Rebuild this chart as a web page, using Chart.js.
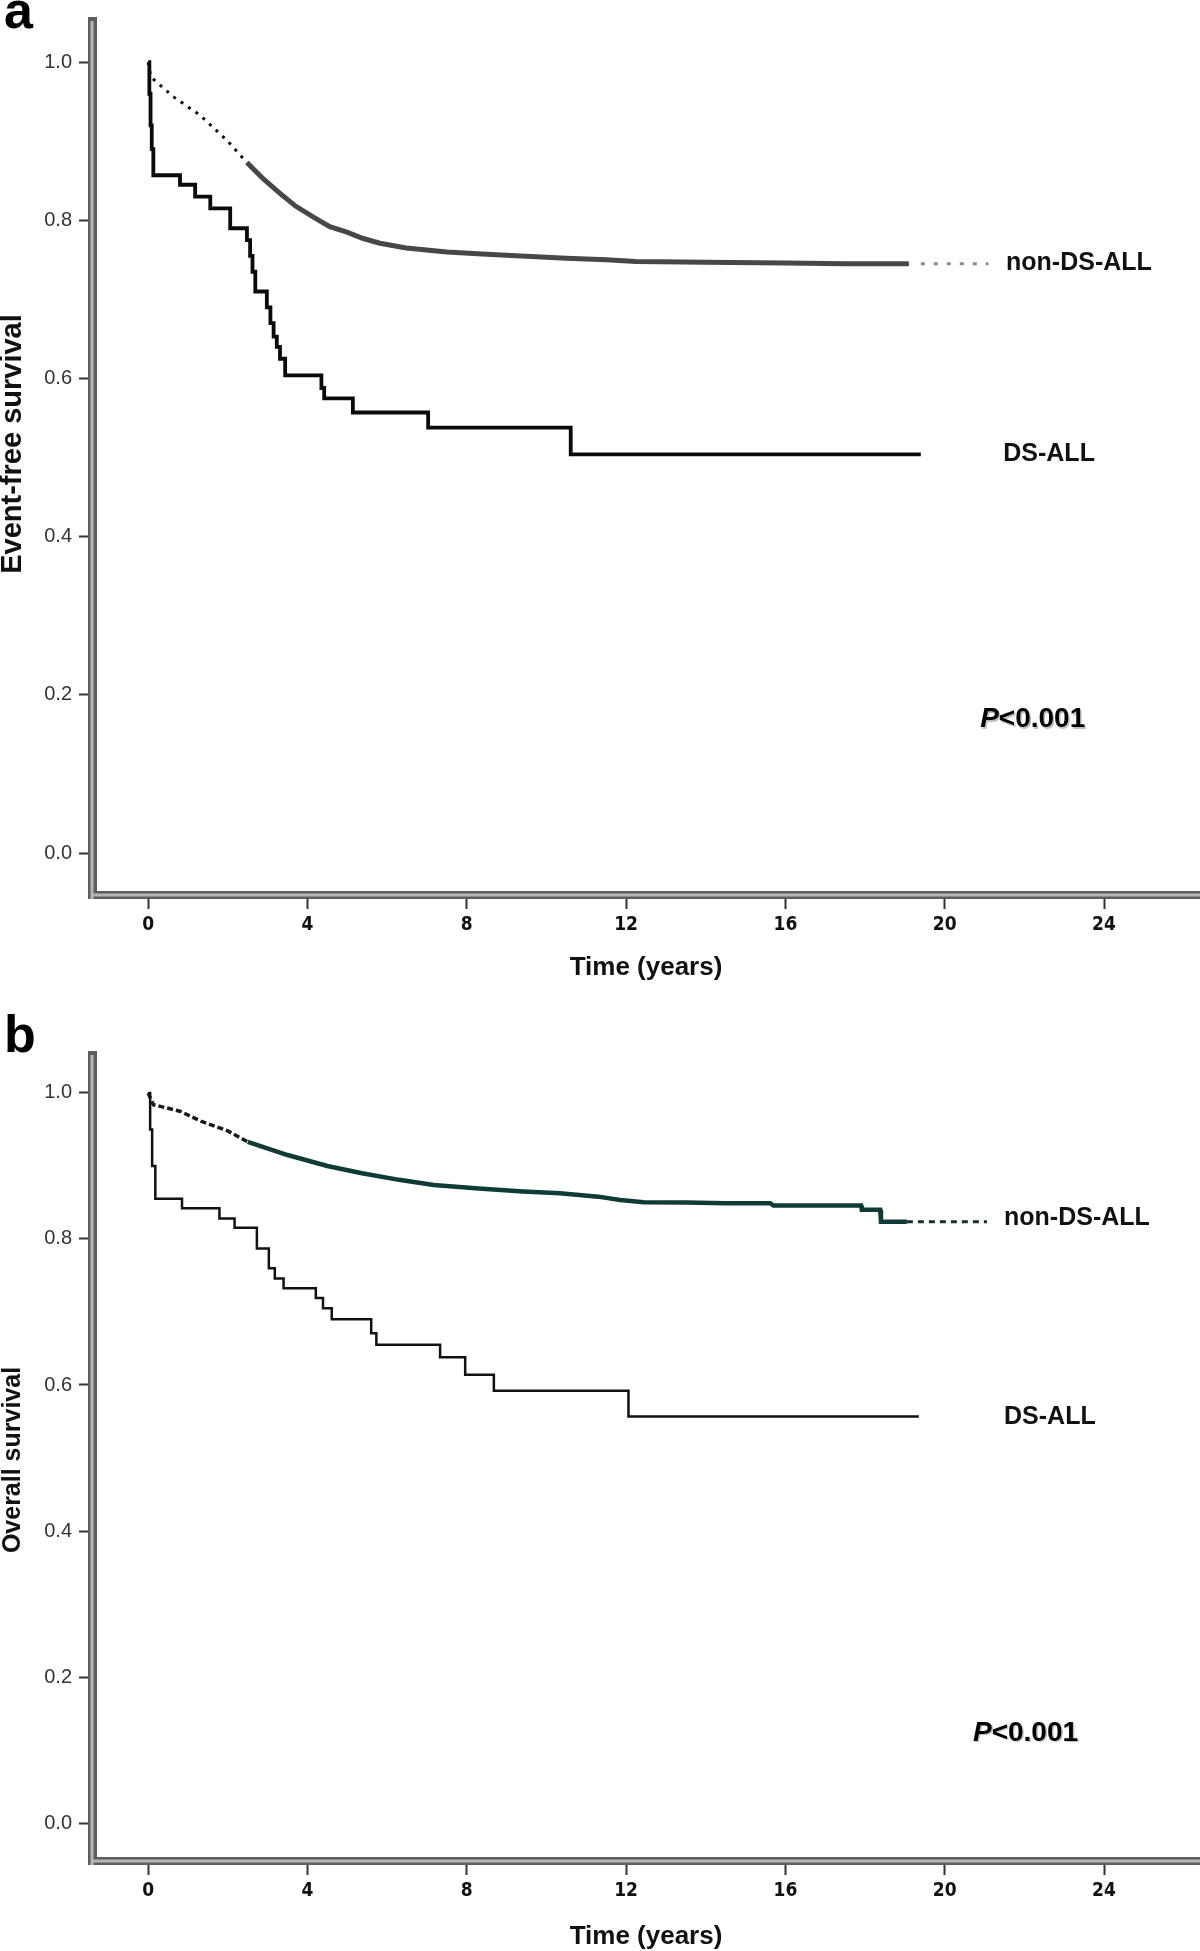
<!DOCTYPE html>
<html>
<head>
<meta charset="utf-8">
<script src="https://cdn.jsdelivr.net/npm/chart.js@4.4.1/dist/chart.umd.min.js"></script>
<style>
html, body { margin: 0; padding: 0; background: #fff; }
#wrap { position: relative; width: 1200px; height: 1951px; overflow: hidden; }
canvas { position: absolute; left: 0; }
#panelA { top: 0; }
#panelB { top: 1000px; }
</style>
</head>
<body>
<div id="wrap">
  <canvas id="panelA" width="1200" height="1000"></canvas>
  <canvas id="panelB" width="1200" height="966"></canvas>
</div>
<script>
// ticks
const xTicks = [0, 4, 8, 12, 16, 20, 24];
const yTicks = [0.0, 0.2, 0.4, 0.6, 0.8, 1.0];

// a: event-free survival, DS-ALL (step points: time the value drops to)
const efsDsTime  = [0, 0.03, 0.06, 0.09, 0.13, 0.80, 1.18, 1.56, 2.06, 2.48, 2.56, 2.62, 2.69, 2.98, 3.07, 3.15, 3.23, 3.31, 3.44, 4.35, 4.42, 5.14, 7.03, 10.61, 19.4];
const efsDsValue = [1.0, 0.96, 0.92, 0.89, 0.857, 0.845, 0.830, 0.815, 0.790, 0.775, 0.755, 0.735, 0.710, 0.690, 0.670, 0.653, 0.640, 0.625, 0.604, 0.588, 0.575, 0.557, 0.538, 0.504, 0.504];

// a: event-free survival, non-DS-ALL
const efsNonEarlyTime  = [0, 0.07, 0.64, 1.3, 1.98, 2.48];
const efsNonEarlyValue = [1.0, 0.981, 0.956, 0.933, 0.901, 0.873];
const efsNonTime  = [2.48, 2.9, 3.31, 3.7, 4.15, 4.56, 4.99, 5.4, 5.82, 6.48, 7.5, 8.5, 9.36, 10.5, 11.5, 12.25, 14, 16, 17.5, 19.1];
const efsNonValue = [0.873, 0.852, 0.834, 0.818, 0.804, 0.792, 0.785, 0.777, 0.771, 0.765, 0.760, 0.757, 0.755, 0.752, 0.750, 0.748, 0.747, 0.746, 0.745, 0.745];
const efsNonTailTime  = [19.4, 21.1];
const efsNonTailValue = [0.745, 0.745];

// b: overall survival, DS-ALL
const osDsTime  = [0, 0.05, 0.1, 0.18, 0.85, 1.79, 2.17, 2.73, 3.03, 3.18, 3.40, 4.21, 4.39, 4.61, 5.60, 5.73, 7.33, 7.96, 8.68, 12.06, 19.35];
const osDsValue = [1.0, 0.95, 0.90, 0.855, 0.842, 0.828, 0.8155, 0.787, 0.760, 0.746, 0.7325, 0.719, 0.705, 0.690, 0.671, 0.655, 0.638, 0.614, 0.592, 0.557, 0.557];

// b: overall survival, non-DS-ALL
const osNonEarlyTime  = [0, 0.13, 0.8, 1.34, 2.0, 2.5];
const osNonEarlyValue = [1.0, 0.984, 0.975, 0.961, 0.948, 0.933];
const osNonTime  = [2.5, 3.5, 4.5, 5.37, 6.3, 7.17, 8.3, 9.41, 10.34, 11.3, 11.85, 12.44, 13.5, 14.5, 15.62, 15.70, 16.8, 17.90, 17.92, 18.38, 18.40, 19.05];
const osNonValue = [0.933, 0.915, 0.900, 0.890, 0.881, 0.874, 0.869, 0.865, 0.8626, 0.858, 0.8534, 0.8503, 0.850, 0.849, 0.849, 0.8457, 0.8457, 0.8457, 0.840, 0.840, 0.8237, 0.8237];
const osNonTailTime  = [19.05, 21.06];
const osNonTailValue = [0.8237, 0.8237];

const NARROW = "'Liberation Sans Narrow', 'Arial Narrow', 'DejaVu Sans Condensed', sans-serif";
const SANS = "'Liberation Sans', Arial, sans-serif";

function pts(ts, vs) {
    return ts.map((t, i) => ({ x: t, y: vs[i] }));
}

function line(data, color, width, extra) {
    return Object.assign({
        data: data,
        borderColor: color,
        borderWidth: width,
        pointRadius: 0,
        fill: false,
        tension: 0,
        borderCapStyle: 'butt',
        borderJoinStyle: 'miter'
    }, extra || {});
}

// axis look + text labels
const decor = {
    id: 'decor',
    afterDraw(chart, args, opts) {
        const ctx = chart.ctx;
        const area = chart.chartArea;
        const xs = chart.scales.x, ys = chart.scales.y;
        ctx.save();
        // lighter middle stripe of the double axis lines
        ctx.strokeStyle = '#b5b5b5';
        ctx.lineWidth = 3;
        ctx.beginPath();
        ctx.moveTo(area.left, area.top);
        ctx.lineTo(area.left, area.bottom + 4);
        ctx.moveTo(area.left + 1, area.bottom);
        ctx.lineTo(area.right, area.bottom);
        ctx.stroke();

        // panel letter
        ctx.fillStyle = '#000';
        ctx.font = 'bold 52px ' + SANS;
        ctx.textBaseline = 'alphabetic';
        ctx.textAlign = 'left';
        ctx.fillText(opts.letter, 4, opts.letterY);

        // y axis title
        ctx.save();
        ctx.translate(13, opts.yTitleY);
        ctx.rotate(-Math.PI / 2);
        ctx.textAlign = 'center';
        ctx.textBaseline = 'middle';
        ctx.fillStyle = '#111';
        ctx.font = 'bold ' + opts.yTitleSize + 'px ' + SANS;
        ctx.fillText(opts.yTitle, 0, 0);
        ctx.restore();

        // series labels
        ctx.font = 'bold 25px ' + SANS;
        ctx.textBaseline = 'middle';
        ctx.textAlign = 'left';
        opts.labels.forEach(l => {
            ctx.fillStyle = '#111';
            ctx.fillText(l.text, xs.getPixelForValue(l.x), ys.getPixelForValue(l.y));
        });

        // P value
        const px = xs.getPixelForValue(opts.p.x), py = ys.getPixelForValue(opts.p.y);
        ctx.shadowColor = 'rgba(0,0,0,0.25)';
        ctx.shadowOffsetX = 1.5;
        ctx.shadowOffsetY = 1.5;
        ctx.fillStyle = '#000';
        ctx.font = 'italic bold 28px ' + SANS;
        ctx.fillText('P', px, py);
        const w = ctx.measureText('P').width;
        ctx.font = 'bold 28px ' + SANS;
        ctx.fillText('<0.001', px + w, py);
        ctx.restore();
    }
};

function makePanel(id, cfg) {
    return new Chart(document.getElementById(id), {
        type: 'line',
        data: { datasets: cfg.datasets },
        plugins: [decor],
        options: {
            responsive: false,
            animation: false,
            devicePixelRatio: 1,
            layout: { padding: { top: cfg.top, left: 0, right: 0, bottom: 0 } },
            plugins: {
                legend: { display: false },
                tooltip: { enabled: false },
                decor: cfg.decor
            },
            scales: {
                x: {
                    type: 'linear',
                    min: -1.41,
                    max: 26.41,
                    afterBuildTicks: s => { s.ticks = xTicks.map(v => ({ value: v })); },
                    afterFit: s => { s.height = cfg.xHeight; },
                    grid: { drawOnChartArea: false, tickLength: 14, tickWidth: 2, tickColor: '#333' },
                    border: { display: true, color: '#5e5e5e', width: 8 },
                    ticks: {
                        padding: 5,
                        color: '#111',
                        font: { family: NARROW, size: 19, weight: 'bold' },
                        callback: v => String(v)
                    },
                    title: {
                        display: true,
                        text: 'Time (years)',
                        color: '#111',
                        font: { family: SANS, size: 26, weight: 'bold', lineHeight: 1 },
                        padding: { top: 0, bottom: cfg.xTitlePad }
                    }
                },
                y: {
                    type: 'linear',
                    min: cfg.yMin,
                    max: 1.052,
                    afterBuildTicks: s => { s.ticks = yTicks.map(v => ({ value: v })); },
                    afterFit: s => { s.width = 92; },
                    grid: { drawOnChartArea: false, tickLength: 13, tickWidth: 2, tickColor: '#333' },
                    border: { display: true, color: '#5e5e5e', width: 9 },
                    ticks: {
                        padding: 7,
                        color: '#333',
                        font: { family: SANS, size: 20 },
                        callback: v => v.toFixed(1)
                    },
                    title: { display: false }
                }
            }
        }
    });
}

makePanel('panelA', {
    top: 21,
    xHeight: 105,
    xTitlePad: 19,
    yMin: -0.053,
    datasets: [
        line(pts(efsDsTime, efsDsValue), '#0a0a0a', 3.8, { stepped: true }),
        line(pts(efsNonEarlyTime, efsNonEarlyValue), '#111', 3, { borderDash: [3, 6] }),
        line(pts(efsNonTime, efsNonValue), '#474747', 5),
        line(pts(efsNonTailTime, efsNonTailValue), '#8a8a8a', 3, { borderDash: [4, 9] })
    ],
    decor: {
        letter: 'a',
        letterY: 28,
        yTitle: 'Event-free survival',
        yTitleSize: 29,
        yTitleY: 444,
        labels: [
            { text: 'non-DS-ALL', x: 21.54, y: 0.746 },
            { text: 'DS-ALL', x: 21.47, y: 0.504 }
        ],
        p: { x: 20.89, y: 0.169 }
    }
});

makePanel('panelB', {
    top: 55,
    xHeight: 105,
    xTitlePad: 16,
    yMin: -0.052,
    datasets: [
        line(pts(osDsTime, osDsValue), '#111', 2.5, { stepped: true }),
        line(pts(osNonEarlyTime, osNonEarlyValue), '#1a1a1a', 3.5, { borderDash: [6, 3] }),
        line(pts(osNonTime, osNonValue), '#0e3b35', 4.5),
        line(pts(osNonTailTime, osNonTailValue), '#17302c', 3, { borderDash: [6, 5] })
    ],
    decor: {
        letter: 'b',
        letterY: 52,
        yTitle: 'Overall survival',
        yTitleSize: 25,
        yTitleY: 460,
        labels: [
            { text: 'non-DS-ALL', x: 21.49, y: 0.829 },
            { text: 'DS-ALL', x: 21.49, y: 0.556 }
        ],
        p: { x: 20.71, y: 0.123 }
    }
});
</script>
</body>
</html>
